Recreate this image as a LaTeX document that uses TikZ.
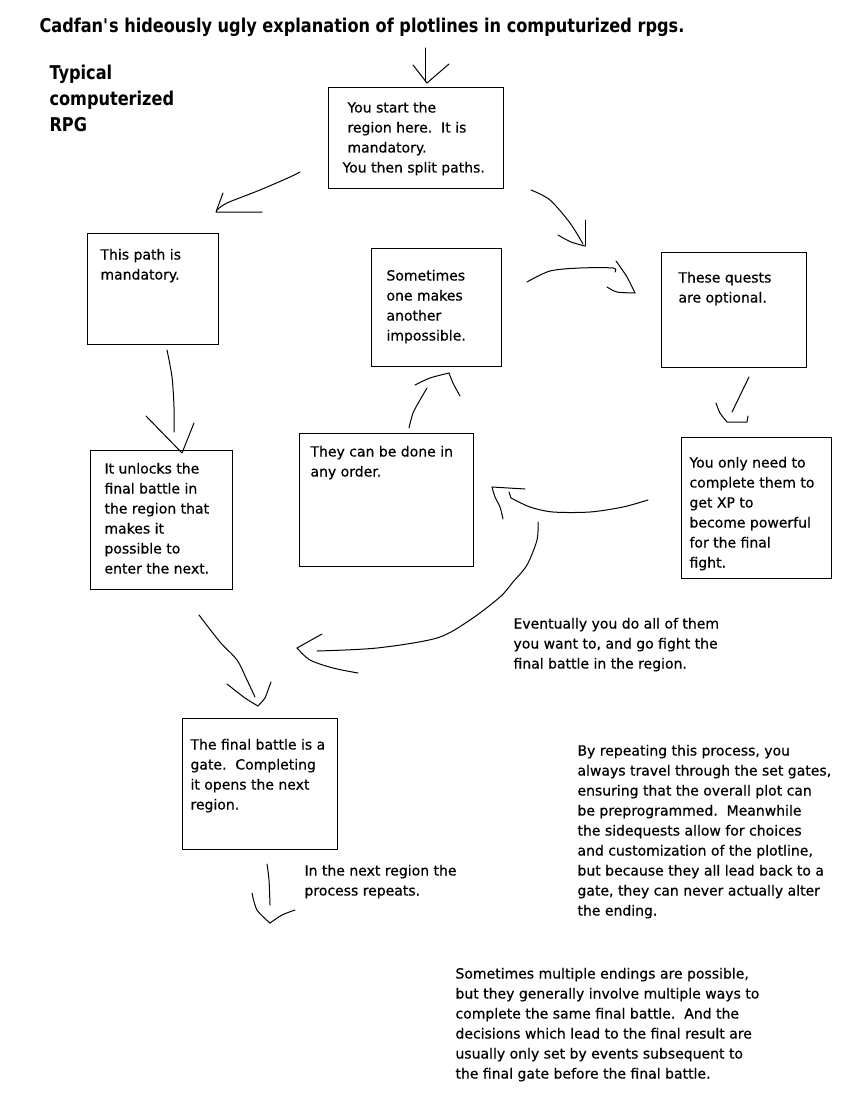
\documentclass[tikz,border=0pt]{standalone}
\usepackage{fontspec}
\setmainfont{DejaVu Sans}[FakeBold=0.5]
\newfontfamily\hdr{DejaVu Sans}[FakeStretch=0.85]
\usetikzlibrary{fit}
\begin{document}
\begin{tikzpicture}[x=0.75pt,y=-0.75pt,line width=0.75pt,
  box/.style={draw,inner sep=0pt,outer sep=0pt},
  txt/.style={inner sep=0pt,anchor=north west,align=left,font=\fontsize{10.5pt}{15pt}\selectfont},
  hand/.style={line width=0.75pt,line cap=round,line join=round}]
\useasboundingbox (0,0) rectangle (853,1102);
\fill[white] (0,0) rectangle (853,1102);

% titles
\node[anchor=base west,inner sep=0pt,font=\hdr\bfseries\fontsize{14.25pt}{17pt}\selectfont] (title) at (39,33)
  {Cadfan\textquotesingle s hideously ugly explanation of plotlines in computurized rpgs.};
\node[anchor=north west,inner sep=0pt,align=left,font=\hdr\bfseries\fontsize{14.25pt}{19.5pt}\selectfont] (subtitle) at (49,61)
  {\strut Typical\\computerized\\RPG};

% boxes
\node[box,fit={(328,88) (503,188)}] (bstart) {};
\node[box,fit={(87,233) (218,344)}] (bpath) {};
\node[box,fit={(371,248) (501,366)}] (bsome) {};
\node[box,fit={(661,252) (806,367)}] (bquest) {};
\node[box,fit={(299,433) (473,566)}] (bthey) {};
\node[box,fit={(681,437) (831,578)}] (bonly) {};
\node[box,fit={(90,450) (232,589)}] (bunlock) {};
\node[box,fit={(182,718) (337,849)}] (bfinal) {};

% texts in boxes
\node[txt] (tstart) at (347,98) {\strut You start the\\region here.\ \ It is\\mandatory.\\\hspace*{-3.75pt}You then split paths.};
\node[txt] (tpath) at (100,245) {\strut This path is\\mandatory.};
\node[txt] (tsome) at (386,266) {\strut Sometimes\\one makes\\another\\impossible.};
\node[txt] (tquest) at (678,268) {\strut These quests\\are optional.};
\node[txt] (tthey) at (310,442) {\strut They can be done in\\any order.};
\node[txt] (tonly) at (689,453) {\strut You only need to\\complete them to\\get XP to\\become powerful\\for the final\\fight.};
\node[txt] (tunlock) at (104,459) {\strut It unlocks the\\final battle in\\the region that\\makes it\\possible to\\enter the next.};
\node[txt] (tfinal) at (190,735) {\strut The final battle is a\\gate.\ \ Completing\\it opens the next\\region.};

% free texts
\node[txt] (tevent) at (513,614) {\strut Eventually you do all of them\\you want to, and go fight the\\final battle in the region.};
\node[txt] (tnext) at (304,861) {\strut In the next region the\\process repeats.};
\node[txt] (trepeat) at (577,741) {\strut By repeating this process, you\\always travel through the set gates,\\ensuring that the overall plot can\\be preprogrammed.\ \ Meanwhile\\the sidequests allow for choices\\and customization of the plotline,\\but because they all lead back to a\\gate, they can never actually alter\\the ending.};
\node[txt] (tmulti) at (455,964) {\strut Sometimes multiple endings are possible,\\but they generally involve multiple ways to\\complete the same final battle.\ \ And the\\decisions which lead to the final result are\\usually only set by events subsequent to\\the final gate before the final battle.};

% arrow coordinates
\coordinate (a0s) at (425,48);   \coordinate (a0t) at (427,83);
\coordinate (a1s) at (300,172);  \coordinate (a1t) at (216,212);
\coordinate (a2s) at (531,190);  \coordinate (a2t) at (585,246);
\coordinate (a3s) at (527,282);  \coordinate (a3t) at (635,293);
\coordinate (a4s) at (749,377);  \coordinate (a4t) at (732,412);
\coordinate (a5s) at (648,500);  \coordinate (a5t) at (492,487);
\coordinate (a6s) at (409,428);  \coordinate (a6t) at (449,373);
\coordinate (a7s) at (538,522);  \coordinate (a7t) at (297,648);
\coordinate (a8s) at (167,350);  \coordinate (a8t) at (182,453);
\coordinate (a9s) at (199,615);  \coordinate (a9t) at (258,706);
\coordinate (a10s) at (267,864); \coordinate (a10t) at (270,923);

% arrow 0: entry into start box
\draw[hand] (a0s) -- (425,82);
\draw[hand] (413,65) -- (a0t) -- (449,64);

% arrow 1: start -> mandatory path
\draw[hand] plot[smooth] coordinates {(a1s) (290,177) (260,190) (227,203) (217,210)};
\draw[hand] (223,193) -- (a1t) -- (262,212);

% arrow 2: start -> optional side
\draw[hand] plot[smooth] coordinates {(a2s) (550,200) (570,223) (583,244)};
\draw[hand] plot[smooth] coordinates {(558,235) (571,242) (a2t)};
\draw[hand] (a2t) -- (585,220);

% arrow 3: towards quests
\draw[hand] plot[smooth] coordinates {(a3s) (550,271) (580,268) (613,268) (615,272)};
\draw[hand] plot[smooth] coordinates {(616,261) (627,277) (a3t)};
\draw[hand] plot[smooth] coordinates {(a3t) (617,292) (607,287)};

% arrow 4: quests -> you only need
\draw[hand] (a4s) -- (a4t);
\draw[hand] plot[smooth] coordinates {(716,403) (720,413) (727,422)};
\draw[hand] (727,422) -- (747,422) -- (748,416);

% arrow 5: you only need -> they can be done
\draw[hand] plot[smooth] coordinates {(a5s) (623,507) (590,512) (553,512) (530,507) (511,498)};
\draw[hand] (511,498) -- (509,492);
\draw[hand] (a5t) -- (525,489);
\draw[hand] plot[smooth] coordinates {(a5t) (495,497) (500,507) (503,519)};

% arrow 6: they can -> sometimes
\draw[hand] plot[smooth] coordinates {(a6s) (413,413) (420,400) (427,388)};
\draw[hand] plot[smooth] coordinates {(415,385) (430,378) (a6t)};
\draw[hand] plot[smooth] coordinates {(a6t) (453,383) (460,396)};

% arrow 7: eventually -> final battle
\draw[hand] plot[smooth] coordinates {(a7s) (537,540) (527,565) (513,582) (500,597) (470,620) (437,638) (377,648) (317,651)};
\draw[hand] (322,634) -- (a7t);
\draw[hand] plot[smooth] coordinates {(a7t) (310,660) (333,668) (358,673)};

% arrow 8: path -> unlocks
\draw[hand] plot[smooth] coordinates {(a8s) (172,377) (174,407) (174,432)};
\draw[hand] (146,416) -- (a8t) -- (194,423);

% arrow 9: unlocks -> final
\draw[hand] plot[smooth] coordinates {(a9s) (220,642) (237,660) (247,680) (255,697)};
\draw[hand] plot[smooth] coordinates {(227,684) (245,698) (a9t)};
\draw[hand] plot[smooth] coordinates {(a9t) (265,698) (268,690) (271,682)};

% arrow 10: final -> next region
\draw[hand] plot[smooth] coordinates {(a10s) (269,880) (270,905)};
\draw[hand] plot[smooth] coordinates {(252,893) (257,910) (a10t)};
\draw[hand] plot[smooth] coordinates {(a10t) (282,915) (295,910)};
\end{tikzpicture}
\end{document}
